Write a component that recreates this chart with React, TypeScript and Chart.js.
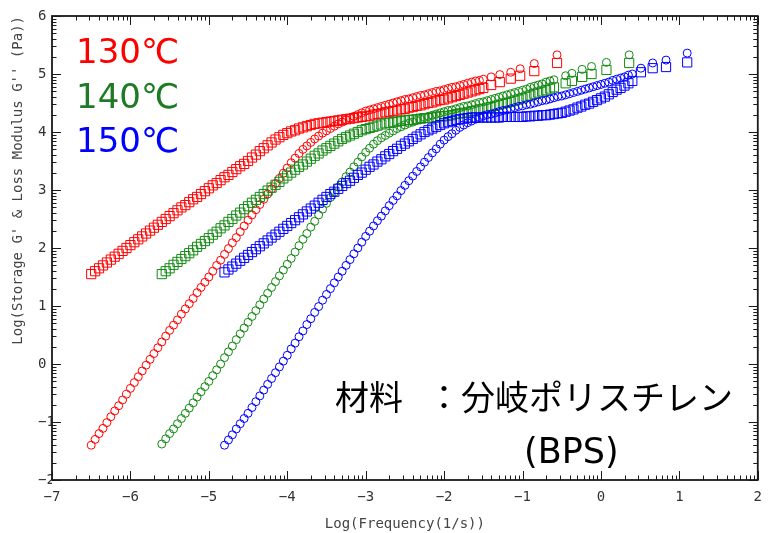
import React, { useEffect, useRef } from 'react';
import { Chart, registerables } from 'chart.js';

Chart.register(...registerables);

// ---- axis ranges / titles ----
const X_MIN = -7;
const X_MAX = 2;
const Y_MIN = -2;
const Y_MAX = 6;

const X_TITLE = 'Log(Frequency(1/s))';
const Y_TITLE = "Log(Storage G' & Loss Modulus G'' (Pa))";

const TEMP_LABELS = ['130℃', '140℃', '150℃'];

// ---- 130℃ (red): log frequency, G' (circles), G'' (squares) ----
const freq130 = [
  -6.5, -6.45, -6.4, -6.35, -6.3, -6.25, -6.2, -6.15, -6.1, -6.05,
  -6.0, -5.95, -5.9, -5.85, -5.8, -5.75, -5.7, -5.65, -5.6, -5.55,
  -5.5, -5.45, -5.4, -5.35, -5.3, -5.25, -5.2, -5.15, -5.1, -5.05,
  -5.0, -4.95, -4.9, -4.85, -4.8, -4.75, -4.7, -4.65, -4.6, -4.55,
  -4.5, -4.45, -4.4, -4.35, -4.3, -4.25, -4.2, -4.15, -4.1, -4.05,
  -4.0, -3.95, -3.9, -3.85, -3.8, -3.75, -3.7, -3.65, -3.6, -3.55,
  -3.5, -3.45, -3.4, -3.35, -3.3, -3.25, -3.2, -3.15, -3.1, -3.05,
  -3.0, -2.95, -2.9, -2.85, -2.8, -2.75, -2.7, -2.65, -2.6, -2.55,
  -2.5, -2.45, -2.4, -2.35, -2.3, -2.25, -2.2, -2.15, -2.1, -2.05,
  -2.0, -1.95, -1.9, -1.85, -1.8, -1.75, -1.7, -1.65, -1.6, -1.55,
  -1.5, -1.4, -1.29, -1.15, -1.03, -0.85, -0.56,
];
const storage130 = [
  -1.40, -1.30, -1.20, -1.11, -1.01, -0.91, -0.81, -0.72, -0.62, -0.52,
  -0.42, -0.32, -0.22, -0.12, -0.02, 0.08, 0.18, 0.28, 0.38, 0.48,
  0.58, 0.67, 0.76, 0.86, 0.95, 1.04, 1.13, 1.23, 1.32, 1.41,
  1.50, 1.60, 1.70, 1.79, 1.89, 1.99, 2.09, 2.18, 2.28, 2.38,
  2.48, 2.57, 2.66, 2.75, 2.84, 2.93, 3.02, 3.11, 3.20, 3.29,
  3.38, 3.47, 3.55, 3.63, 3.70, 3.76, 3.82, 3.88, 3.93, 3.98,
  4.02, 4.06, 4.10, 4.14, 4.17, 4.21, 4.24, 4.27, 4.30, 4.33,
  4.36, 4.38, 4.40, 4.42, 4.44, 4.46, 4.48, 4.50, 4.52, 4.54,
  4.56, 4.57, 4.59, 4.61, 4.63, 4.64, 4.66, 4.68, 4.70, 4.71,
  4.73, 4.75, 4.77, 4.78, 4.80, 4.82, 4.84, 4.86, 4.88, 4.89,
  4.91, 4.95, 4.99, 5.03, 5.09, 5.18, 5.33,
];
const loss130 = [
  1.55, 1.60, 1.65, 1.70, 1.75, 1.80, 1.85, 1.90, 1.95, 2.00,
  2.05, 2.10, 2.15, 2.20, 2.25, 2.30, 2.35, 2.40, 2.45, 2.50,
  2.55, 2.60, 2.65, 2.70, 2.74, 2.79, 2.84, 2.88, 2.93, 2.98,
  3.03, 3.08, 3.12, 3.17, 3.22, 3.26, 3.31, 3.36, 3.41, 3.45,
  3.50, 3.56, 3.61, 3.67, 3.72, 3.77, 3.82, 3.87, 3.91, 3.95,
  3.98, 4.01, 4.03, 4.06, 4.08, 4.10, 4.12, 4.14, 4.15, 4.16,
  4.17, 4.18, 4.19, 4.20, 4.21, 4.22, 4.23, 4.24, 4.25, 4.26,
  4.27, 4.28, 4.30, 4.31, 4.32, 4.34, 4.35, 4.36, 4.37, 4.39,
  4.40, 4.42, 4.43, 4.45, 4.46, 4.48, 4.50, 4.51, 4.53, 4.55,
  4.56, 4.58, 4.60, 4.62, 4.64, 4.66, 4.68, 4.70, 4.72, 4.74,
  4.76, 4.81, 4.86, 4.92, 4.97, 5.05, 5.19,
];

// ---- 140℃ (green) ----
const freq140 = [
  -5.6, -5.55, -5.5, -5.45, -5.4, -5.35, -5.3, -5.25, -5.2, -5.15,
  -5.1, -5.05, -5.0, -4.95, -4.9, -4.85, -4.8, -4.75, -4.7, -4.65,
  -4.6, -4.55, -4.5, -4.45, -4.4, -4.35, -4.3, -4.25, -4.2, -4.15,
  -4.1, -4.05, -4.0, -3.95, -3.9, -3.85, -3.8, -3.75, -3.7, -3.65,
  -3.6, -3.55, -3.5, -3.45, -3.4, -3.35, -3.3, -3.25, -3.2, -3.15,
  -3.1, -3.05, -3.0, -2.95, -2.9, -2.85, -2.8, -2.75, -2.7, -2.65,
  -2.6, -2.55, -2.5, -2.45, -2.4, -2.35, -2.3, -2.25, -2.2, -2.15,
  -2.1, -2.05, -2.0, -1.95, -1.9, -1.85, -1.8, -1.75, -1.7, -1.65,
  -1.6, -1.55, -1.5, -1.45, -1.4, -1.35, -1.3, -1.25, -1.2, -1.15,
  -1.1, -1.05, -1.0, -0.95, -0.9, -0.85, -0.8, -0.75, -0.7, -0.65,
  -0.6, -0.45, -0.37, -0.24, -0.12, 0.07, 0.36,
];
const storage140 = [
  -1.38, -1.29, -1.20, -1.12, -1.03, -0.94, -0.85, -0.76, -0.67, -0.57,
  -0.48, -0.39, -0.30, -0.20, -0.10, 0.00, 0.11, 0.21, 0.31, 0.42,
  0.52, 0.62, 0.72, 0.82, 0.92, 1.02, 1.12, 1.22, 1.32, 1.42,
  1.52, 1.62, 1.72, 1.82, 1.93, 2.04, 2.15, 2.25, 2.36, 2.46,
  2.57, 2.67, 2.77, 2.87, 2.96, 3.05, 3.14, 3.23, 3.31, 3.40,
  3.48, 3.57, 3.65, 3.72, 3.79, 3.85, 3.90, 3.94, 3.98, 4.02,
  4.06, 4.09, 4.12, 4.15, 4.17, 4.20, 4.22, 4.25, 4.27, 4.29,
  4.31, 4.33, 4.35, 4.37, 4.38, 4.40, 4.42, 4.44, 4.45, 4.47,
  4.49, 4.51, 4.52, 4.54, 4.56, 4.58, 4.60, 4.62, 4.64, 4.66,
  4.68, 4.70, 4.72, 4.74, 4.77, 4.79, 4.81, 4.83, 4.86, 4.88,
  4.90, 4.97, 5.01, 5.08, 5.13, 5.20, 5.33,
];
const loss140 = [
  1.55, 1.60, 1.65, 1.71, 1.76, 1.81, 1.86, 1.91, 1.96, 2.02,
  2.07, 2.12, 2.17, 2.23, 2.28, 2.34, 2.39, 2.45, 2.50, 2.56,
  2.61, 2.67, 2.72, 2.78, 2.83, 2.88, 2.93, 2.99, 3.04, 3.09,
  3.14, 3.20, 3.25, 3.30, 3.35, 3.40, 3.44, 3.49, 3.54, 3.59,
  3.63, 3.68, 3.72, 3.76, 3.80, 3.84, 3.88, 3.91, 3.94, 3.97,
  4.00, 4.03, 4.05, 4.07, 4.09, 4.11, 4.13, 4.15, 4.16, 4.17,
  4.18, 4.19, 4.20, 4.21, 4.21, 4.22, 4.23, 4.24, 4.24, 4.25,
  4.26, 4.27, 4.27, 4.28, 4.29, 4.31, 4.32, 4.33, 4.34, 4.36,
  4.37, 4.39, 4.40, 4.42, 4.43, 4.45, 4.47, 4.49, 4.50, 4.52,
  4.54, 4.56, 4.58, 4.61, 4.63, 4.66, 4.68, 4.70, 4.72, 4.75,
  4.77, 4.84, 4.88, 4.95, 5.00, 5.07, 5.19,
];

// ---- 150℃ (blue) ----
const freq150 = [
  -4.8, -4.75, -4.7, -4.65, -4.6, -4.55, -4.5, -4.45, -4.4, -4.35,
  -4.3, -4.25, -4.2, -4.15, -4.1, -4.05, -4.0, -3.95, -3.9, -3.85,
  -3.8, -3.75, -3.7, -3.65, -3.6, -3.55, -3.5, -3.45, -3.4, -3.35,
  -3.3, -3.25, -3.2, -3.15, -3.1, -3.05, -3.0, -2.95, -2.9, -2.85,
  -2.8, -2.75, -2.7, -2.65, -2.6, -2.55, -2.5, -2.45, -2.4, -2.35,
  -2.3, -2.25, -2.2, -2.15, -2.1, -2.05, -2.0, -1.95, -1.9, -1.85,
  -1.8, -1.75, -1.7, -1.65, -1.6, -1.55, -1.5, -1.45, -1.4, -1.35,
  -1.3, -1.25, -1.2, -1.15, -1.1, -1.05, -1.0, -0.95, -0.9, -0.85,
  -0.8, -0.75, -0.7, -0.65, -0.6, -0.55, -0.5, -0.45, -0.4, -0.35,
  -0.3, -0.25, -0.2, -0.15, -0.1, -0.05, 0.0, 0.05, 0.1, 0.15,
  0.2, 0.25, 0.3, 0.35, 0.4, 0.51, 0.66, 0.83, 1.1,
];
const storage150 = [
  -1.40, -1.31, -1.22, -1.12, -1.03, -0.94, -0.85, -0.75, -0.65, -0.55,
  -0.45, -0.35, -0.25, -0.15, -0.05, 0.05, 0.15, 0.26, 0.36, 0.47,
  0.57, 0.68, 0.78, 0.89, 0.99, 1.10, 1.20, 1.30, 1.40, 1.50,
  1.60, 1.70, 1.80, 1.90, 2.00, 2.10, 2.20, 2.29, 2.38, 2.47,
  2.55, 2.64, 2.73, 2.82, 2.90, 2.99, 3.08, 3.16, 3.24, 3.32,
  3.40, 3.48, 3.56, 3.64, 3.71, 3.79, 3.86, 3.92, 3.97, 4.03,
  4.08, 4.12, 4.16, 4.19, 4.22, 4.25, 4.28, 4.30, 4.31, 4.33,
  4.35, 4.37, 4.38, 4.40, 4.42, 4.44, 4.45, 4.47, 4.48, 4.50,
  4.52, 4.54, 4.55, 4.57, 4.59, 4.61, 4.62, 4.64, 4.66, 4.68,
  4.70, 4.72, 4.74, 4.76, 4.78, 4.80, 4.82, 4.84, 4.86, 4.89,
  4.91, 4.93, 4.95, 4.98, 5.00, 5.10, 5.19, 5.24, 5.36,
];
const loss150 = [
  1.58, 1.63, 1.68, 1.73, 1.78, 1.83, 1.88, 1.93, 1.98, 2.03,
  2.08, 2.13, 2.18, 2.23, 2.28, 2.33, 2.38, 2.43, 2.48, 2.53,
  2.58, 2.63, 2.68, 2.73, 2.78, 2.83, 2.88, 2.93, 2.97, 3.02,
  3.07, 3.12, 3.16, 3.21, 3.26, 3.30, 3.35, 3.40, 3.44, 3.49,
  3.53, 3.58, 3.62, 3.67, 3.71, 3.76, 3.80, 3.84, 3.88, 3.92,
  3.96, 4.00, 4.03, 4.06, 4.09, 4.12, 4.15, 4.17, 4.19, 4.21,
  4.22, 4.23, 4.24, 4.25, 4.25, 4.25, 4.25, 4.25, 4.25, 4.25,
  4.25, 4.26, 4.26, 4.26, 4.26, 4.26, 4.26, 4.27, 4.27, 4.28,
  4.28, 4.29, 4.29, 4.30, 4.31, 4.32, 4.33, 4.35, 4.37, 4.39,
  4.42, 4.44, 4.47, 4.49, 4.52, 4.55, 4.58, 4.61, 4.65, 4.69,
  4.73, 4.76, 4.80, 4.84, 4.88, 5.03, 5.10, 5.12, 5.20,
];

const RED = '#ff0000';
const GREEN = '#138a13';
const BLUE = '#0000ff';

const pts = (xs: number[], ys: number[]) => xs.map((x, i) => ({ x, y: ys[i] }));
const minusSign = (v: number | string) => String(v).replace('-', '\u2212');

const frameTicks = {
  id: 'frameTicks',
  afterDatasetsDraw(chart: any) {
    const { ctx, chartArea } = chart;
    const { left, right, top, bottom } = chartArea;
    const xs = chart.scales.x;
    const ys = chart.scales.y;
    ctx.save();
    ctx.strokeStyle = '#1a1a1a';
    ctx.lineWidth = 1;
    ctx.beginPath();
    for (let n = X_MIN; n <= X_MAX; n++) {
      for (let k = 1; k <= 9; k++) {
        if (n === X_MAX && k > 1) break;
        const px = Math.round(xs.getPixelForValue(n + Math.log10(k))) + 0.5;
        const len = k === 1 ? 9 : 4.5;
        ctx.moveTo(px, bottom);
        ctx.lineTo(px, bottom - len);
        ctx.moveTo(px, top);
        ctx.lineTo(px, top + len);
      }
    }
    for (let n = Y_MIN; n <= Y_MAX; n++) {
      for (let k = 1; k <= 9; k++) {
        if (n === Y_MAX && k > 1) break;
        const py = Math.round(ys.getPixelForValue(n + Math.log10(k))) + 0.5;
        const len = k === 1 ? 9 : 4.5;
        ctx.moveTo(left, py);
        ctx.lineTo(left + len, py);
        ctx.moveTo(right, py);
        ctx.lineTo(right - len, py);
      }
    }
    ctx.stroke();
    ctx.lineWidth = 1.8;
    ctx.strokeRect(left, top, right - left, bottom - top);
    ctx.restore();
  },
};

const tickFont = { family: "'DejaVu Sans Mono', monospace", size: 14 };

export default function App() {
  const ref = useRef<HTMLCanvasElement>(null);

  useEffect(() => {
    const mkSet = (label: string, data: any, color: string, style: string, radius: number) => ({
      label,
      data,
      pointStyle: style,
      pointRadius: radius,
      pointBorderWidth: 1,
      borderColor: color,
      backgroundColor: 'rgba(0,0,0,0)',
      showLine: false,
    });
    const chart = new Chart(ref.current as HTMLCanvasElement, {
      type: 'scatter',
      data: {
        datasets: [
          mkSet("150℃ G'", pts(freq150, storage150), BLUE, 'circle', 4),
          mkSet("150℃ G''", pts(freq150, loss150), BLUE, 'rect', 6.5),
          mkSet("140℃ G'", pts(freq140, storage140), GREEN, 'circle', 4),
          mkSet("140℃ G''", pts(freq140, loss140), GREEN, 'rect', 6.5),
          mkSet("130℃ G'", pts(freq130, storage130), RED, 'circle', 4),
          mkSet("130℃ G''", pts(freq130, loss130), RED, 'rect', 6.5),
        ],
      },
      options: {
        animation: false,
        responsive: false,
        devicePixelRatio: 1,
        events: [],
        layout: { padding: { left: 38, top: 16, right: 3, bottom: 0 } },
        plugins: {
          legend: { display: false },
          tooltip: { enabled: false },
        },
        scales: {
          x: {
            type: 'linear',
            min: X_MIN,
            max: X_MAX,
            grid: { display: false, drawTicks: false },
            border: { display: false },
            ticks: {
              stepSize: 1,
              padding: 9,
              color: '#333',
              font: tickFont,
              callback: (v: any) => minusSign(v),
            },
            title: {
              display: true,
              text: X_TITLE,
              color: '#444',
              font: tickFont,
              padding: { top: 0, bottom: 0 },
            },
            afterFit: (s: any) => {
              s.height = 53;
            },
          },
          y: {
            type: 'linear',
            min: Y_MIN,
            max: Y_MAX,
            grid: { display: false, drawTicks: false },
            border: { display: false },
            ticks: {
              stepSize: 1,
              padding: 0,
              crossAlign: 'far',
              color: '#333',
              font: tickFont,
              callback: (v: any) => minusSign(v),
            },
            title: {
              display: true,
              text: Y_TITLE,
              align: 'end',
              color: '#444',
              font: tickFont,
              padding: { top: -28, bottom: 0 },
            },
            afterFit: (s: any) => {
              s.width = 14;
            },
          },
        },
      } as any,
      plugins: [frameTicks],
    });
    return () => chart.destroy();
  }, []);

  const tempStyle = (top: number, color: string): React.CSSProperties => ({
    position: 'absolute',
    left: 76,
    top,
    color,
    fontFamily: "'DejaVu Sans', sans-serif",
    fontSize: 34,
    lineHeight: 1,
    whiteSpace: 'nowrap',
  });
  const jpStyle = (left: number): React.CSSProperties => ({
    position: 'absolute',
    left,
    top: 379,
    color: '#000',
    fontFamily: "'Noto Sans CJK JP', sans-serif",
    fontSize: 34,
    lineHeight: 1,
    whiteSpace: 'nowrap',
  });

  return (
    <div
      style={{
        position: 'fixed',
        left: 0,
        top: 0,
        width: 771,
        height: 533,
        background: '#fff',
        overflow: 'hidden',
      }}
    >
      <canvas
        ref={ref}
        width={771}
        height={533}
        style={{ position: 'absolute', left: 0, top: 0, width: 771, height: 533 }}
      />
      <div style={tempStyle(34, RED)}>{TEMP_LABELS[0]}</div>
      <div style={tempStyle(79, '#1e7b23')}>{TEMP_LABELS[1]}</div>
      <div style={tempStyle(123, BLUE)}>{TEMP_LABELS[2]}</div>
      <div style={jpStyle(335)}>材料</div>
      <div style={jpStyle(427)}>：分岐ポリスチレン</div>
      <div
        style={{
          position: 'absolute',
          left: 524,
          top: 434,
          color: '#000',
          fontFamily: "'DejaVu Sans', sans-serif",
          fontSize: 35,
          lineHeight: 1,
          whiteSpace: 'nowrap',
        }}
      >
        (BPS)
      </div>
    </div>
  );
}
